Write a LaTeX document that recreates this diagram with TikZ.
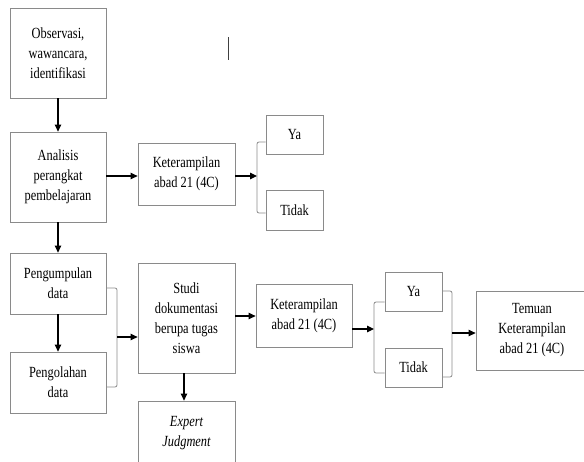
\documentclass[tikz,border=0pt]{standalone}
\usepackage{fontspec}
\setmainfont{Liberation Serif}[FakeStretch=0.8]
\usepackage{tikz}
\usetikzlibrary{arrows.meta, positioning}
\definecolor{BoxGray}{HTML}{8A8A8A}

\begin{document}
\begin{tikzpicture}[x=1pt, y=-1pt, >={Triangle[length=7pt, width=6.5pt]},
    box/.style={draw=BoxGray, line width=0.8pt, align=center, inner sep=2pt,
        font=\fontsize{15.5}{20}\selectfont},
    flow/.style={->, line width=1.1pt},
    brace/.style={draw=BoxGray, line width=0.8pt, rounded corners=2pt}]
    % Frame
    \useasboundingbox (0,0) rectangle (584,461);
    \clip (0,0) rectangle (584,461);

    % Stray cursor mark
    \draw[line width=1pt, black!75] (228,37) -- (228,60);

    % First column
    \node[box, minimum width=96pt, minimum height=90pt] (obs) at (58,53)
        {Observasi,\\ wawancara,\\ identifikasi};
    \node[box, minimum width=96pt, minimum height=90pt] (anl) at (58,177)
        {Analisis\\ perangkat\\ pembelajaran};
    \node[box, minimum width=96pt, minimum height=61pt] (kum) at (58,283.5)
        {Pengumpulan\\ data};
    \node[box, minimum width=96pt, minimum height=61pt] (olah) at (58,382.5)
        {Pengolahan\\ data};

    % Upper branch
    \node[box, minimum width=97pt, minimum height=62pt] (ket1) at (186.5,174)
        {Keterampilan\\ abad 21 (4C)};
    \node[box, minimum width=57pt, minimum height=39pt] (ya1) at (294.5,134.5) {Ya};
    \node[box, minimum width=57pt, minimum height=40pt] (tdk1) at (294.5,210) {Tidak};

    % Lower branch
    \node[box, minimum width=97pt, minimum height=110pt] (studi) at (186.5,318)
        {Studi\\ dokumentasi\\ berupa tugas\\ siswa};
    \node[box, minimum width=97pt, minimum height=64pt] (expert) at (186.5,433)
        {\itshape Expert\\ \itshape Judgment};
    \node[box, minimum width=96pt, minimum height=63pt] (ket2) at (304,315.5)
        {Keterampilan\\ abad 21 (4C)};
    \node[box, minimum width=57pt, minimum height=39pt] (ya2) at (413.5,291.5) {Ya};
    \node[box, minimum width=57pt, minimum height=39pt] (tdk2) at (413.5,367.5) {Tidak};
    \node[box, minimum width=112pt, minimum height=79pt] (temu) at (532,330.5)
        {Temuan\\ Keterampilan\\ abad 21 (4C)};

    % Junction points
    \coordinate (j1) at (257,176);
    \coordinate (j2) at (117,337);
    \coordinate (j3) at (374,329);
    \coordinate (j4) at (452,333);

    % Brackets
    \draw[brace] (ya1.west |- 0,142) -| (j1) |- (tdk1.west |- 0,213);
    \draw[brace] (kum.east |- 0,288) -| (j2) |- (olah.east |- 0,387);
    \draw[brace] (ya2.west |- 0,302) -| (j3) |- (tdk2.west |- 0,373);
    \draw[brace] (ya2.east |- 0,291) -| (j4) |- (tdk2.east |- 0,377);

    % Arrows
    \draw[flow] (obs) -- (anl);
    \draw[flow] (anl.east |- j1) -- (ket1.west |- j1);
    \draw[flow] (ket1.east |- j1) -- (j1);
    \draw[flow] (anl) -- (kum);
    \draw[flow] (kum) -- (olah);
    \draw[flow] (j2) -- (studi.west |- j2);
    \draw[flow] (studi.south -| 184,0) -- (expert.north -| 184,0);
    \draw[flow] (studi.east |- 0,316) -- (ket2.west |- 0,316);
    \draw[flow] (ket2.east |- j3) -- (j3);
    \draw[flow] (j4) -- (temu.west |- j4);
\end{tikzpicture}
\end{document}
